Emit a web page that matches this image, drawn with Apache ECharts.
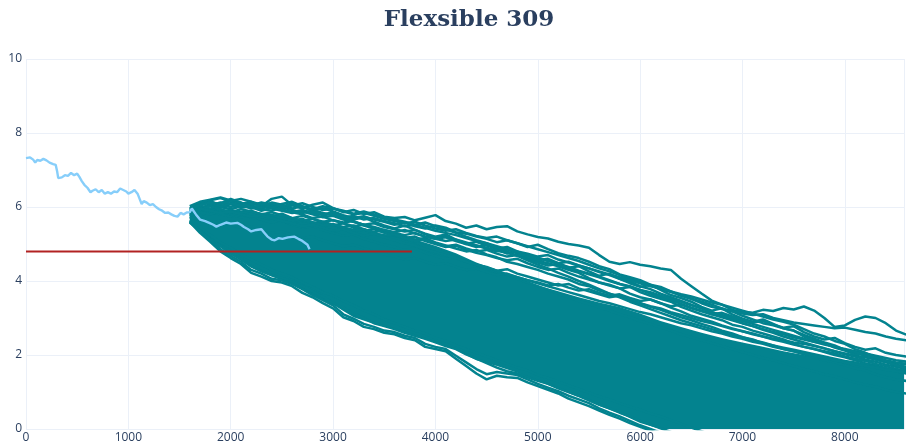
<!DOCTYPE html>
<html>
<head>
<meta charset="utf-8">
<script src="https://cdn.jsdelivr.net/npm/echarts@6/dist/echarts.min.js"></script>
<style>
  html, body { margin: 0; padding: 0; background: #fff; }
  #chart { width: 907px; height: 445px; }
</style>
</head>
<body>
<div id="chart"></div>
<script>
// Observed history of the level (x = step, y = level)
const HIST_X = [0, 40, 70, 90, 110, 140, 170, 200, 230, 265, 290, 305, 315, 350, 380, 410, 440, 470, 500, 520,
  545, 570, 600, 630, 650, 680, 710, 740, 770, 800, 830, 860, 890, 920, 950, 980, 1000, 1030, 1060, 1090,
  1110, 1130, 1150, 1180, 1210, 1240, 1270, 1300, 1330, 1360, 1390, 1420, 1450, 1480, 1510, 1540, 1570, 1600,
  1620, 1660, 1700, 1750, 1790, 1830, 1860, 1900, 1955, 2000, 2065, 2100, 2130, 2170, 2200, 2250, 2300, 2330,
  2360, 2400, 2430, 2470, 2505, 2560, 2620, 2660, 2690, 2720, 2750, 2770];
const HIST_Y = [7.32, 7.34, 7.28, 7.20, 7.27, 7.25, 7.30, 7.26, 7.20, 7.16, 7.14, 6.95, 6.78, 6.80, 6.86, 6.84, 6.92, 6.86, 6.90, 6.82,
  6.70, 6.60, 6.52, 6.40, 6.44, 6.48, 6.40, 6.46, 6.36, 6.40, 6.36, 6.42, 6.40, 6.50, 6.46, 6.42, 6.36, 6.40, 6.46, 6.36,
  6.22, 6.08, 6.16, 6.12, 6.05, 6.08, 6.00, 5.94, 5.90, 5.84, 5.85, 5.80, 5.76, 5.74, 5.84, 5.80, 5.85, 5.86,
  5.96, 5.80, 5.66, 5.62, 5.57, 5.52, 5.47, 5.52, 5.58, 5.55, 5.57, 5.52, 5.46, 5.40, 5.34, 5.38, 5.40, 5.30,
  5.20, 5.12, 5.10, 5.16, 5.14, 5.18, 5.20, 5.14, 5.10, 5.04, 4.98, 4.86];

// Threshold level and the step where its marker ends
const THRESHOLD = 4.8;
const THRESHOLD_END = 3770;

// Simulated paths, sampled every 100 steps
const SIM_X = [1600, 1700, 1800, 1900, 2000, 2100, 2200, 2300, 2400, 2500,
  2600, 2700, 2800, 2900, 3000, 3100, 3200, 3300, 3400, 3500,
  3600, 3700, 3800, 3900, 4000, 4100, 4200, 4300, 4400, 4500,
  4600, 4700, 4800, 4900, 5000, 5100, 5200, 5300, 5400, 5500,
  5600, 5700, 5800, 5900, 6000, 6100, 6200, 6300, 6400, 6500,
  6600, 6700, 6800, 6900, 7000, 7100, 7200, 7300, 7400, 7500,
  7600, 7700, 7800, 7900, 8000, 8100, 8200, 8300, 8400, 8500, 8600];

const PATH_U1 = [5.92, 6.05, 6.18, 6.24, 6.15, 6.08, 6.14, 6.02, 6.22, 6.28,
  6.05, 5.96, 6.06, 6.12, 5.97, 5.86, 5.92, 5.81, 5.86, 5.74,
  5.70, 5.73, 5.64, 5.71, 5.78, 5.62, 5.55, 5.44, 5.50, 5.40,
  5.46, 5.48, 5.34, 5.26, 5.19, 5.15, 5.06, 5.00, 4.96, 4.90,
  4.70, 4.52, 4.46, 4.51, 4.44, 4.40, 4.34, 4.30, 4.06, 3.86,
  3.66, 3.47, 3.36, 3.22, 3.16, 3.14, 3.22, 3.19, 3.27, 3.23,
  3.31, 3.20, 3.00, 2.76, 2.80, 2.95, 3.04, 3.00, 2.86, 2.66, 2.55];
const PATH_U2 = [5.85, 5.98, 6.04, 6.12, 6.08, 5.98, 6.02, 5.94, 5.90, 5.99,
  5.92, 5.84, 5.90, 5.97, 5.88, 5.78, 5.70, 5.75, 5.66, 5.60,
  5.52, 5.58, 5.48, 5.42, 5.50, 5.44, 5.32, 5.28, 5.20, 5.14,
  5.05, 5.10, 5.02, 4.92, 4.98, 4.86, 4.75, 4.68, 4.62, 4.52,
  4.40, 4.32, 4.18, 4.10, 4.02, 3.90, 3.84, 3.72, 3.60, 3.52,
  3.40, 3.30, 3.24, 3.18, 3.12, 3.08, 3.10, 3.00, 2.94, 2.88,
  2.84, 2.80, 2.76, 2.72, 2.74, 2.68, 2.62, 2.58, 2.50, 2.44, 2.40];
const PATH_U3 = [5.80, 5.92, 6.06, 6.00, 5.94, 6.02, 6.10, 6.04, 5.96, 5.90,
  5.84, 5.88, 5.80, 5.72, 5.76, 5.66, 5.60, 5.52, 5.56, 5.46,
  5.40, 5.34, 5.38, 5.26, 5.18, 5.22, 5.10, 5.02, 4.96, 4.88,
  4.80, 4.86, 4.74, 4.62, 4.54, 4.48, 4.40, 4.30, 4.22, 4.08,
  3.96, 3.90, 3.80, 3.66, 3.56, 3.50, 3.40, 3.28, 3.18, 3.06,
  2.98, 2.90, 2.80, 2.72, 2.64, 2.58, 2.50, 2.44, 2.40, 2.34,
  2.30, 2.24, 2.18, 2.10, 2.04, 1.98, 1.94, 1.88, 1.82, 1.78, 1.75];
const PATH_U4 = [5.75, 5.88, 5.96, 5.86, 5.92, 5.84, 5.90, 5.80, 5.74, 5.82,
  5.70, 5.62, 5.68, 5.58, 5.50, 5.56, 5.44, 5.36, 5.40, 5.30,
  5.22, 5.16, 5.20, 5.08, 5.00, 4.92, 4.96, 4.84, 4.76, 4.70,
  4.62, 4.56, 4.60, 4.48, 4.38, 4.30, 4.34, 4.22, 4.12, 4.04,
  3.96, 3.88, 3.80, 3.84, 3.70, 3.60, 3.52, 3.44, 3.30, 3.20,
  3.10, 3.02, 2.94, 2.82, 2.76, 2.66, 2.58, 2.50, 2.42, 2.30,
  2.22, 2.16, 2.08, 2.00, 1.94, 1.86, 1.78, 1.72, 1.64, 1.56, 1.50];
const PATH_U5 = [5.90, 6.00, 5.92, 5.98, 6.08, 6.12, 6.02, 5.96, 6.04, 5.94,
  5.86, 5.80, 5.70, 5.74, 5.64, 5.58, 5.62, 5.50, 5.42, 5.36,
  5.30, 5.20, 5.12, 5.16, 5.04, 4.96, 4.88, 4.80, 4.84, 4.72,
  4.64, 4.52, 4.46, 4.38, 4.30, 4.20, 4.12, 4.04, 3.92, 3.86,
  3.74, 3.66, 3.58, 3.48, 3.40, 3.30, 3.22, 3.12, 3.02, 2.94,
  2.84, 2.76, 2.66, 2.58, 2.48, 2.42, 2.32, 2.26, 2.16, 2.10,
  2.02, 1.94, 1.86, 1.80, 1.72, 1.64, 1.58, 1.48, 1.40, 1.34, 1.30];
const PATH_U6 = [5.95, 6.10, 6.16, 6.05, 6.00, 6.06, 5.96, 6.00, 6.12, 6.06,
  5.96, 6.02, 5.92, 5.84, 5.78, 5.70, 5.60, 5.52, 5.44, 5.34,
  5.24, 5.14, 5.06, 4.94, 4.84, 4.76, 4.64, 4.54, 4.44, 4.34,
  4.24, 4.16, 4.06, 3.96, 3.86, 3.76, 3.66, 3.56, 3.46, 3.38,
  3.28, 3.20, 3.10, 3.02, 2.92, 2.84, 2.74, 2.66, 2.56, 2.48,
  2.40, 2.32, 2.24, 2.16, 2.08, 2.00, 1.92, 1.86, 1.78, 1.70,
  1.62, 1.56, 1.48, 1.42, 1.34, 1.26, 1.20, 1.14, 1.06, 1.00, 0.96];
const PATH_U7 = [5.70, 5.78, 5.86, 5.80, 5.74, 5.80, 5.72, 5.66, 5.72, 5.64,
  5.58, 5.64, 5.56, 5.60, 5.52, 5.46, 5.50, 5.40, 5.32, 5.38,
  5.30, 5.24, 5.30, 5.20, 5.14, 5.18, 5.08, 5.00, 5.06, 4.96,
  4.88, 4.92, 4.80, 4.74, 4.66, 4.70, 4.58, 4.50, 4.42, 4.34,
  4.24, 4.16, 4.06, 3.98, 3.86, 3.78, 3.66, 3.56, 3.46, 3.36,
  3.26, 3.16, 3.06, 2.96, 2.86, 2.78, 2.68, 2.60, 2.50, 2.42,
  2.34, 2.26, 2.18, 2.10, 2.02, 1.96, 1.88, 1.82, 1.74, 1.68, 1.62];
const PATH_U8 = [5.88, 5.94, 5.84, 5.90, 5.80, 5.72, 5.78, 5.66, 5.58, 5.64,
  5.52, 5.44, 5.48, 5.38, 5.30, 5.22, 5.26, 5.14, 5.06, 4.98,
  4.92, 4.84, 4.88, 4.76, 4.68, 4.60, 4.64, 4.52, 4.44, 4.36,
  4.28, 4.32, 4.20, 4.12, 4.04, 3.96, 3.88, 3.92, 3.80, 3.72,
  3.64, 3.56, 3.60, 3.48, 3.40, 3.32, 3.26, 3.16, 3.08, 3.00,
  2.92, 2.86, 2.78, 2.70, 2.64, 2.56, 2.50, 2.42, 2.36, 2.28,
  2.22, 2.16, 2.10, 2.04, 1.96, 1.90, 1.84, 1.76, 1.70, 1.62, 1.58];
const PATH_U9 = [6.02, 6.14, 6.20, 6.26, 6.18, 6.10, 6.04, 6.12, 6.06, 5.98,
  6.04, 6.10, 6.00, 5.92, 5.96, 5.88, 5.80, 5.84, 5.76, 5.68,
  5.62, 5.56, 5.60, 5.50, 5.42, 5.36, 5.40, 5.30, 5.22, 5.16,
  5.20, 5.10, 5.02, 4.94, 4.86, 4.78, 4.70, 4.62, 4.54, 4.44,
  4.34, 4.26, 4.16, 4.06, 3.98, 3.88, 3.78, 3.70, 3.62, 3.52,
  3.44, 3.36, 3.26, 3.18, 3.06, 2.96, 2.86, 2.80, 2.72, 2.66,
  2.54, 2.44, 2.34, 2.26, 2.14, 2.06, 1.98, 1.88, 1.80, 1.72, 1.66];
const PATH_U10 = [5.82, 5.96, 6.08, 6.02, 6.10, 6.04, 5.98, 6.06, 6.00, 5.92,
  5.86, 5.92, 5.84, 5.78, 5.82, 5.72, 5.76, 5.66, 5.70, 5.62,
  5.56, 5.48, 5.52, 5.44, 5.36, 5.30, 5.24, 5.16, 5.08, 5.02,
  4.94, 4.86, 4.78, 4.70, 4.62, 4.56, 4.46, 4.38, 4.28, 4.20,
  4.12, 4.02, 3.92, 3.86, 3.76, 3.66, 3.56, 3.48, 3.38, 3.28,
  3.20, 3.10, 3.02, 2.94, 2.86, 2.78, 2.70, 2.62, 2.56, 2.48,
  2.42, 2.36, 2.28, 2.22, 2.16, 2.10, 2.04, 1.98, 1.92, 1.86, 1.82];
const PATH_U11 = [5.88, 6.02, 5.94, 6.10, 6.22, 6.12, 6.00, 5.90, 5.98, 6.08,
  6.14, 6.02, 5.88, 5.80, 5.86, 5.74, 5.66, 5.72, 5.60, 5.50,
  5.42, 5.50, 5.38, 5.28, 5.20, 5.26, 5.12, 5.00, 4.92, 4.98,
  4.86, 4.74, 4.80, 4.66, 4.56, 4.60, 4.48, 4.36, 4.40, 4.26,
  4.14, 4.20, 4.06, 3.94, 3.84, 3.90, 3.76, 3.62, 3.54, 3.44,
  3.30, 3.20, 3.26, 3.10, 2.98, 2.90, 2.96, 2.84, 2.72, 2.66,
  2.50, 2.40, 2.32, 2.20, 2.12, 2.02, 2.04, 1.92, 1.84, 1.74, 1.68];
const PATH_U12 = [5.78, 5.86, 5.80, 5.90, 5.84, 5.76, 5.82, 5.72, 5.78, 5.70,
  5.62, 5.68, 5.58, 5.50, 5.54, 5.44, 5.36, 5.40, 5.30, 5.22,
  5.26, 5.16, 5.08, 5.12, 5.02, 4.94, 4.98, 4.88, 4.80, 4.84,
  4.74, 4.66, 4.70, 4.58, 4.50, 4.42, 4.46, 4.34, 4.26, 4.18,
  4.10, 4.00, 3.92, 3.84, 3.76, 3.70, 3.60, 3.52, 3.44, 3.34,
  3.26, 3.16, 3.08, 3.00, 2.92, 2.84, 2.76, 2.68, 2.60, 2.52,
  2.44, 2.36, 2.30, 2.22, 2.14, 2.08, 2.00, 1.94, 1.86, 1.80, 1.76];
const PATH_U13 = [5.96, 6.04, 6.12, 6.08, 6.16, 6.22, 6.14, 6.06, 6.10, 6.02,
  6.08, 6.00, 5.94, 6.02, 5.96, 5.90, 5.82, 5.88, 5.80, 5.72,
  5.66, 5.60, 5.52, 5.58, 5.48, 5.40, 5.30, 5.20, 5.10, 5.02,
  4.90, 4.80, 4.68, 4.56, 4.44, 4.34, 4.22, 4.12, 4.00, 3.90,
  3.78, 3.66, 3.56, 3.44, 3.34, 3.24, 3.14, 3.04, 2.94, 2.86,
  2.78, 2.70, 2.62, 2.54, 2.48, 2.40, 2.34, 2.26, 2.20, 2.14,
  2.08, 2.02, 1.96, 1.90, 1.84, 1.80, 1.74, 1.68, 1.64, 1.58, 1.54];
const PATH_U14 = [5.72, 5.66, 5.58, 5.62, 5.52, 5.44, 5.48, 5.38, 5.30, 5.34,
  5.24, 5.16, 5.20, 5.10, 5.02, 4.94, 4.98, 4.88, 4.80, 4.72,
  4.66, 4.58, 4.62, 4.52, 4.44, 4.48, 4.38, 4.30, 4.34, 4.24,
  4.16, 4.20, 4.10, 4.02, 3.96, 3.88, 3.92, 3.82, 3.74, 3.78,
  3.68, 3.60, 3.64, 3.54, 3.46, 3.50, 3.40, 3.32, 3.36, 3.26,
  3.18, 3.10, 3.14, 3.04, 2.96, 2.88, 2.92, 2.82, 2.74, 2.78,
  2.62, 2.50, 2.42, 2.46, 2.32, 2.22, 2.14, 2.18, 2.06, 2.00, 1.96];
const PATH_U15 = [5.84, 5.92, 6.02, 5.94, 5.86, 5.94, 5.88, 5.80, 5.86, 5.78,
  5.70, 5.76, 5.68, 5.60, 5.64, 5.56, 5.48, 5.52, 5.46, 5.38,
  5.32, 5.38, 5.28, 5.20, 5.14, 5.08, 5.12, 5.04, 4.96, 4.90,
  4.82, 4.76, 4.68, 4.72, 4.62, 4.54, 4.48, 4.52, 4.42, 4.34,
  4.26, 4.18, 4.10, 4.02, 3.94, 3.86, 3.80, 3.72, 3.64, 3.58,
  3.50, 3.42, 3.36, 3.28, 3.20, 3.12, 3.04, 2.96, 2.90, 2.82,
  2.70, 2.58, 2.50, 2.38, 2.30, 2.16, 2.06, 1.94, 1.84, 1.72, 1.64];
const PATH_U16 = [5.86, 5.96, 5.90, 5.84, 5.88, 5.80, 5.74, 5.78, 5.70, 5.62,
  5.56, 5.48, 5.52, 5.44, 5.36, 5.40, 5.30, 5.22, 5.28, 5.18,
  5.10, 5.02, 4.96, 4.86, 4.78, 4.70, 4.62, 4.52, 4.44, 4.38,
  4.28, 4.18, 4.10, 4.02, 3.94, 3.86, 3.78, 3.70, 3.62, 3.54,
  3.46, 3.40, 3.32, 3.24, 3.16, 3.10, 3.02, 2.94, 2.86, 2.80,
  2.72, 2.64, 2.58, 2.50, 2.44, 2.36, 2.30, 2.22, 2.16, 2.10,
  2.04, 1.98, 1.92, 1.86, 1.80, 1.76, 1.70, 1.66, 1.60, 1.56, 1.52];
const PATH_L1 = [5.60, 5.30, 5.06, 4.80, 4.62, 4.46, 4.22, 4.12, 4.00, 3.96,
  3.86, 3.68, 3.56, 3.40, 3.26, 3.02, 2.92, 2.76, 2.70, 2.60,
  2.56, 2.46, 2.40, 2.22, 2.16, 2.10, 1.90, 1.70, 1.50, 1.34,
  1.44, 1.40, 1.38, 1.26, 1.16, 1.06, 0.96, 0.82, 0.72, 0.62,
  0.50, 0.38, 0.28, 0.16, 0.06, -0.04, -0.14, -0.24];
const PATH_L2 = [5.62, 5.40, 5.16, 4.94, 4.74, 4.60, 4.40, 4.26, 4.16, 4.08,
  3.98, 3.86, 3.72, 3.58, 3.40, 3.28, 3.12, 3.00, 2.86, 2.78,
  2.70, 2.60, 2.52, 2.44, 2.34, 2.24, 2.16, 2.02, 1.90, 1.78,
  1.66, 1.56, 1.50, 1.40, 1.30, 1.22, 1.10, 1.00, 0.90, 0.78,
  0.66, 0.56, 0.44, 0.34, 0.22, 0.12, 0.02, -0.08, -0.20];
const PATH_L3 = [5.64, 5.46, 5.24, 5.04, 4.90, 4.72, 4.58, 4.44, 4.30, 4.20,
  4.10, 3.96, 3.84, 3.70, 3.60, 3.46, 3.34, 3.20, 3.10, 2.96,
  2.86, 2.76, 2.66, 2.58, 2.46, 2.38, 2.26, 2.16, 2.06, 1.96,
  1.86, 1.76, 1.66, 1.58, 1.46, 1.38, 1.28, 1.18, 1.08, 0.98,
  0.88, 0.80, 0.70, 0.60, 0.52, 0.42, 0.34, 0.24, 0.14, 0.04,
  -0.06, -0.16];
const PATH_L4 = [5.58, 5.36, 5.12, 4.86, 4.68, 4.52, 4.30, 4.20, 4.06, 4.02,
  3.92, 3.78, 3.62, 3.48, 3.34, 3.10, 2.98, 2.84, 2.76, 2.66,
  2.62, 2.52, 2.46, 2.30, 2.22, 2.16, 1.98, 1.80, 1.62, 1.48,
  1.54, 1.50, 1.46, 1.34, 1.22, 1.12, 1.02, 0.90, 0.80, 0.70,
  0.56, 0.44, 0.34, 0.22, 0.10, 0.00, -0.10, -0.20];

const PATHS = [PATH_U1, PATH_U2, PATH_U3, PATH_U4, PATH_U5, PATH_U6, PATH_U7, PATH_U8,
  PATH_U9, PATH_U10, PATH_U11, PATH_U12, PATH_U13, PATH_U14, PATH_U15, PATH_U16,
  PATH_L1, PATH_L2, PATH_L3, PATH_L4];

// Dense core of the simulated fan (lower and upper edge), every 200 steps
const CORE_X = [1600, 1800, 2000, 2200, 2400, 2600, 2800, 3000, 3200, 3400,
  3600, 3800, 4000, 4200, 4400, 4600, 4800, 5000, 5200, 5400,
  5600, 5800, 6000, 6200, 6400, 6600, 6800, 7000, 7200, 7400,
  7600, 7800, 8000, 8200, 8400, 8600];
const CORE_LOW = [5.62, 5.10, 4.72, 4.36, 4.12, 3.90, 3.62, 3.36, 3.02, 2.84,
  2.70, 2.52, 2.34, 2.14, 1.86, 1.70, 1.52, 1.30, 1.08, 0.86,
  0.62, 0.42, 0.16, 0, 0, 0, 0, 0, 0, 0,
  0, 0, 0, 0, 0, 0];
const CORE_HIGH = [5.90, 5.95, 5.92, 5.88, 5.82, 5.72, 5.62, 5.52, 5.42, 5.32,
  5.22, 5.12, 4.95, 4.75, 4.50, 4.30, 4.08, 3.88, 3.72, 3.56,
  3.42, 3.30, 3.12, 2.92, 2.76, 2.60, 2.46, 2.34, 2.22, 2.10,
  2.00, 1.92, 1.84, 1.74, 1.64, 1.54];

const TEAL = '#03838f';
const INK = '#2a3f5f';
const GRID = '#ebf0f8';

const chart = echarts.init(document.getElementById('chart'), null, { renderer: 'canvas' });

const pathSeries = PATHS.map(p => ({
  type: 'line',
  data: p.map((v, i) => [SIM_X[i], v]),
  showSymbol: false,
  silent: true,
  lineStyle: { color: TEAL, width: 2.5 },
  z: 3
}));

// Filled core: upper edge left to right, then lower edge right to left
const coreSeries = {
  type: 'custom',
  silent: true,
  clip: true,
  z: 2,
  data: [0],
  renderItem: (params, api) => {
    const pts = [];
    for (let i = 0; i < CORE_X.length; i++) pts.push(api.coord([CORE_X[i], CORE_HIGH[i]]));
    for (let i = CORE_X.length - 1; i >= 0; i--) pts.push(api.coord([CORE_X[i], CORE_LOW[i]]));
    return { type: 'polygon', shape: { points: pts }, style: { fill: TEAL } };
  }
};

chart.setOption({
  animation: false,
  backgroundColor: '#fff',
  title: {
    text: 'Flexsible 309',
    left: 464,
    top: 4,
    textAlign: 'center',
    textStyle: { fontFamily: 'DejaVu Serif', fontSize: 23, fontWeight: 'bold', color: INK }
  },
  grid: { left: 26, right: 0, top: 59, bottom: 16 },
  xAxis: {
    type: 'value', min: 0, max: 8578, interval: 1000,
    axisLine: { show: false }, axisTick: { show: false },
    splitLine: { show: true, lineStyle: { color: GRID, width: 1 } },
    axisLabel: {
      color: INK, fontFamily: 'Open Sans', fontSize: 12, margin: 3,
      formatter: v => (v % 1000 === 0 ? String(v) : '')
    }
  },
  yAxis: {
    type: 'value', min: 0, max: 10, interval: 2,
    axisLine: { show: false }, axisTick: { show: false },
    splitLine: { show: true, lineStyle: { color: GRID, width: 1 } },
    axisLabel: { color: INK, fontFamily: 'Open Sans', fontSize: 12, margin: 4 }
  },
  series: [
    coreSeries,
    ...pathSeries,
    {
      type: 'line', silent: true, showSymbol: false,
      data: HIST_X.map((x, i) => [x, HIST_Y[i]]),
      lineStyle: { color: '#87cefa', width: 2.4 },
      z: 5
    },
    {
      type: 'line', silent: true, showSymbol: false,
      data: [[0, THRESHOLD], [THRESHOLD_END, THRESHOLD]],
      lineStyle: { color: '#b22222', width: 2 },
      z: 6
    }
  ]
});
</script>
</body>
</html>
